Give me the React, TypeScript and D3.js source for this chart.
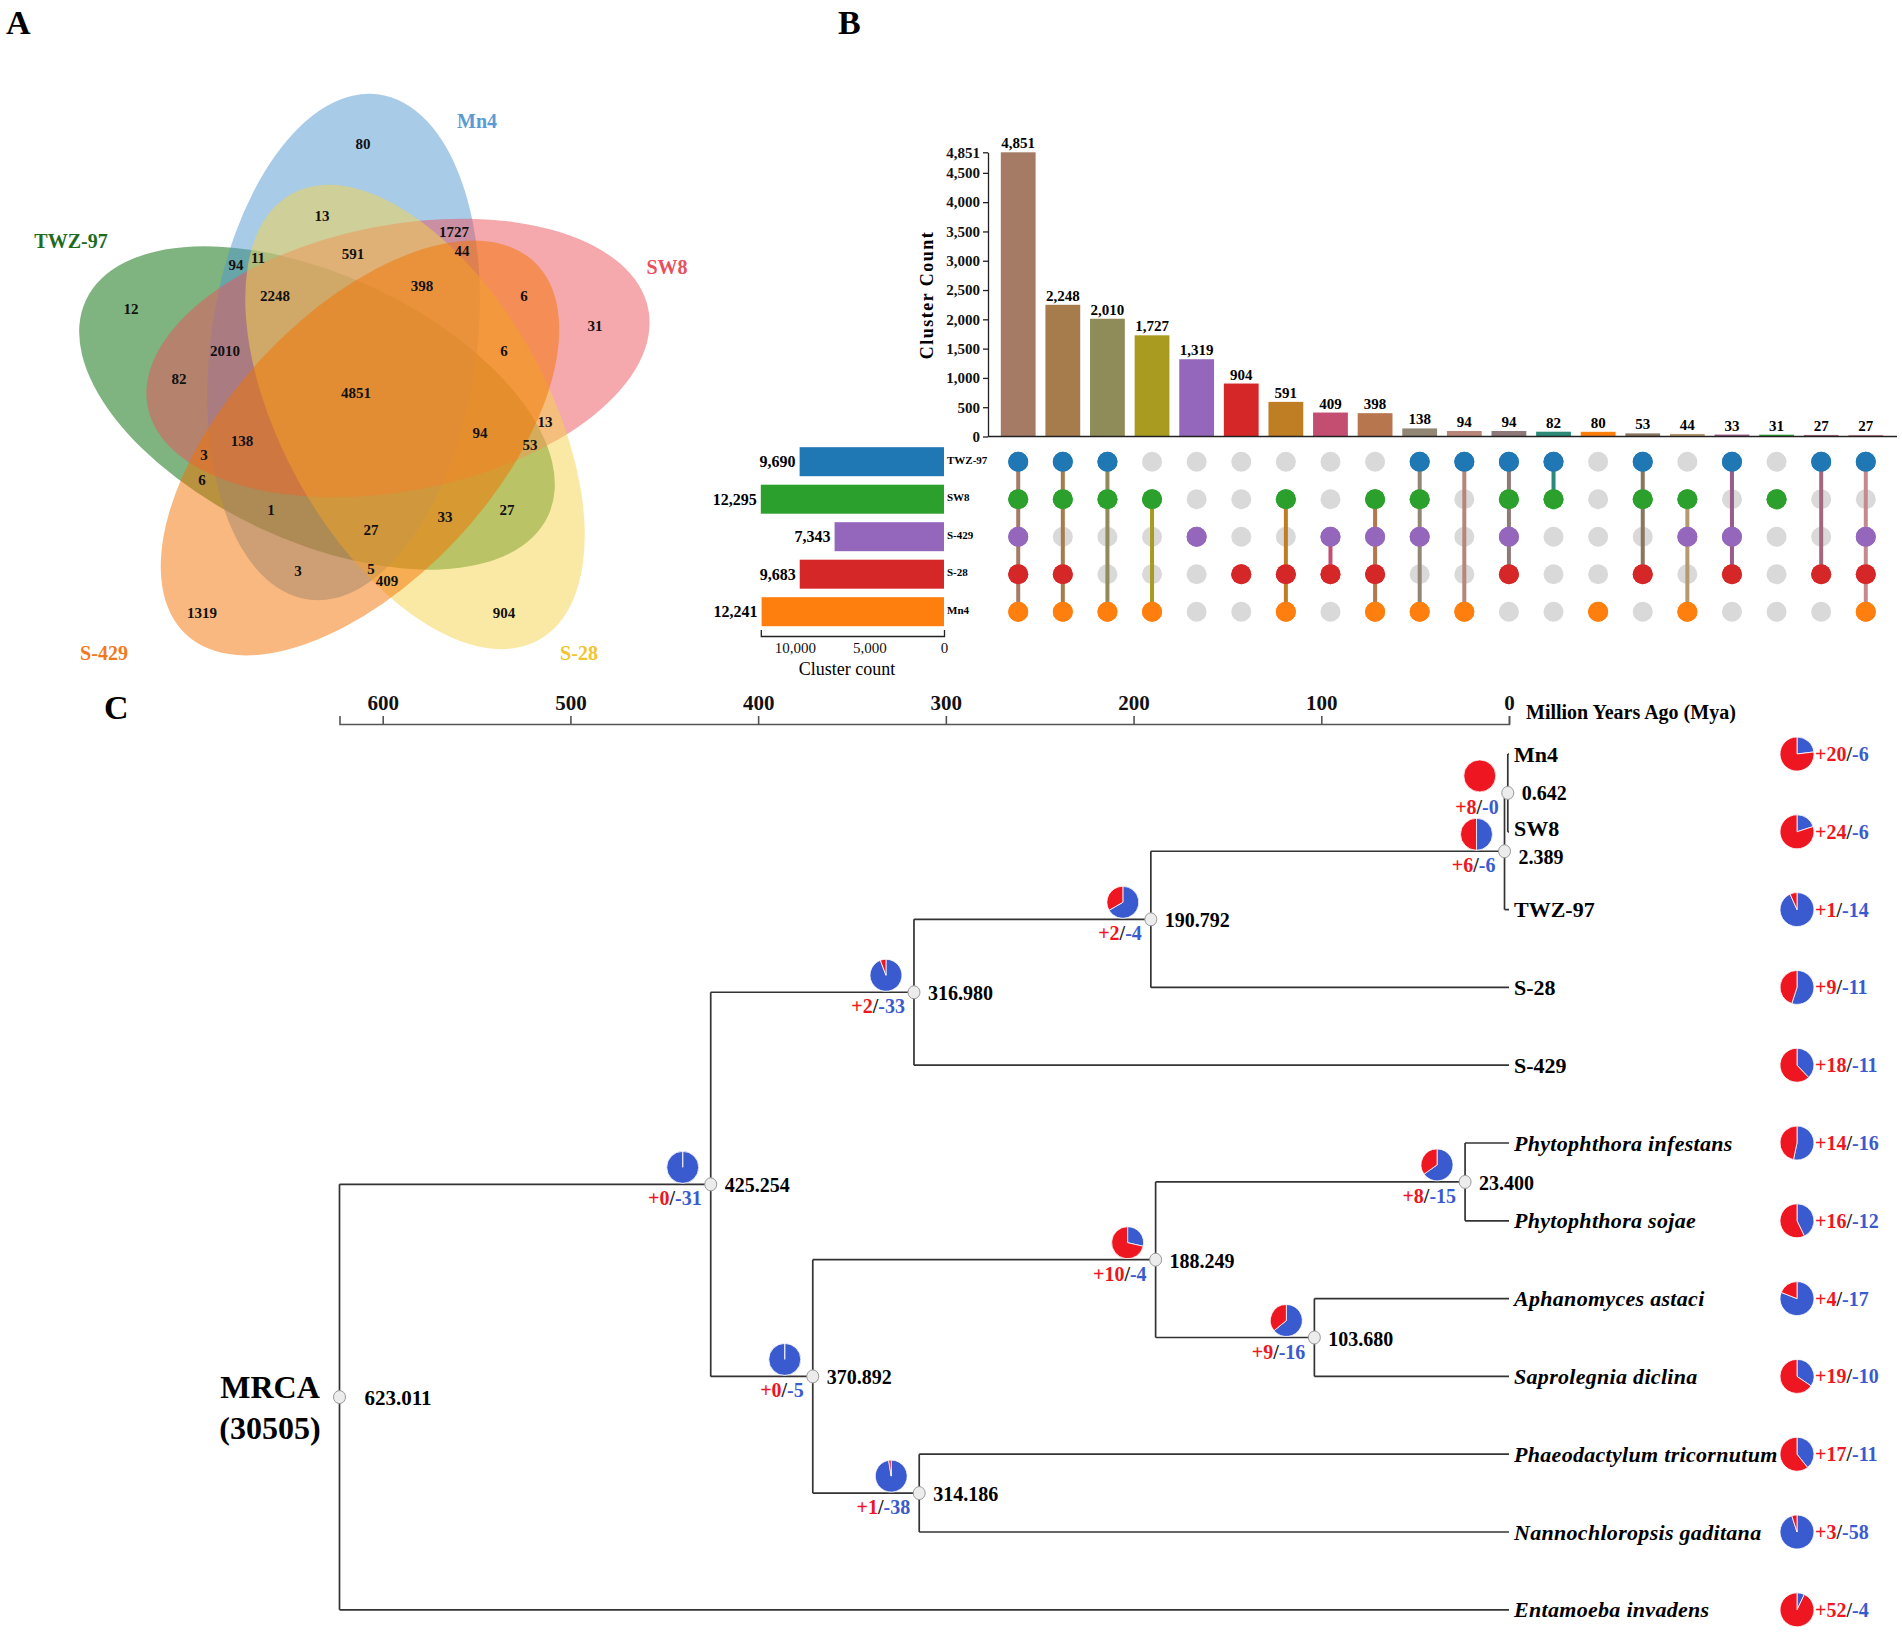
import * as d3 from "d3";
import { useEffect, useRef } from "react";

const W = 1902;
const H = 1635;
const SERIF = "'Liberation Serif', 'Times New Roman', serif";

// ---------- A: five-set venn ----------
const vennSetNames = ["Mn4", "SW8", "S-28", "S-429", "TWZ-97"];
const vennFill = ["#5197d1", "#eb535b", "#f5d34b", "#f37100", "#006700"];
const vennTextColor = ["#5b9bd5", "#e8505b", "#f2c430", "#f07a22", "#1e6b1e"];
const vennDrawOrder = [4, 0, 1, 2, 3];
const vennCounts = [80, 13, 1727, 44, 591, 94, 11, 2248, 398, 6, 31, 12, 2010, 82, 4851, 6, 13, 94, 53, 138, 3, 6, 1, 27, 33, 27, 3, 5, 409, 1319, 904];
const vennCountPos: [number, number][] = [
  [363, 144], [322, 216], [454, 232], [462, 251], [353, 254], [236, 265], [258, 258], [275, 296],
  [422, 286], [524, 296], [595, 326], [131, 309], [225, 351], [179, 379], [356, 393], [504, 351],
  [545, 422], [480, 433], [530, 445], [242, 441], [204, 455], [202, 480], [271, 510], [371, 530],
  [445, 517], [507, 510], [298, 571], [371, 569], [387, 581], [202, 613], [504, 613],
];
const vennSetLabelPos: [number, number][] = [[477, 121], [667, 267], [579, 653], [104, 653], [71, 241]];
// ellipse centre / rotation for each set (same order as vennSetNames)
const vennGeom = [
  { cx: 343.5, cy: 347, rot: 8 },
  { cx: 398, cy: 358, rot: 79 },
  { cx: 415, cy: 417, rot: 151 },
  { cx: 360, cy: 448, rot: 223 },
  { cx: 317, cy: 408, rot: 295 },
];

// ---------- B: upset ----------
const upsetRows = ["TWZ-97", "SW8", "S-429", "S-28", "Mn4"];
const rowColors = ["#1f77b4", "#2ca02c", "#9467bd", "#d62728", "#ff7f0e"];
const setSizes = [9690, 12295, 7343, 9683, 12241];
const interCounts = [4851, 2248, 2010, 1727, 1319, 904, 591, 409, 398, 138, 94, 94, 82, 80, 53, 44, 33, 31, 27, 27];
const interMembers = [
  "11111", "11011", "11001", "01001", "00100", "00010", "01011", "00110", "01111", "11101",
  "10001", "11110", "11000", "00001", "11010", "01101", "10110", "01000", "10010", "10111",
];
const interColors = [
  "#a67b66", "#a67c4d", "#8f8c5a", "#a99a20", "#9467bd", "#d62728", "#bf7d24", "#c44e72", "#b8764f", "#928674",
  "#b88678", "#8f7878", "#2b8a78", "#ff7f0e", "#8a7560", "#b59a6f", "#9a5a8a", "#2ca02c", "#a2687d", "#c58a8e",
];
const barTicks = [0, 500, 1000, 1500, 2000, 2500, 3000, 3500, 4000, 4500, 4851];
const setTicks = [10000, 5000, 0];

// ---------- C: time tree ----------
const timeTicks = [600, 500, 400, 300, 200, 100, 0];
const tipNames = [
  "Mn4", "SW8", "TWZ-97", "S-28", "S-429", "Phytophthora infestans", "Phytophthora sojae",
  "Aphanomyces astaci", "Saprolegnia diclina", "Phaeodactylum tricornutum", "Nannochloropsis gaditana", "Entamoeba invadens",
];
const tipItalic = [false, false, false, false, false, true, true, true, true, true, true, true];
const tipGain = [20, 24, 1, 9, 18, 14, 16, 4, 19, 17, 3, 52];
const tipLoss = [6, 6, 14, 11, 11, 16, 12, 17, 10, 11, 58, 4];
const nodeIds = ["n0", "n1", "n2", "n3", "n4", "n5", "n6", "n7", "n8", "n9", "root"];
const nodeAges = [0.642, 2.389, 190.792, 316.98, 23.4, 103.68, 188.249, 314.186, 370.892, 425.254, 623.011];
const nodeKids = [
  ["Mn4", "SW8"], ["n0", "TWZ-97"], ["n1", "S-28"], ["n2", "S-429"],
  ["Phytophthora infestans", "Phytophthora sojae"], ["Aphanomyces astaci", "Saprolegnia diclina"],
  ["n4", "n5"], ["Phaeodactylum tricornutum", "Nannochloropsis gaditana"], ["n6", "n7"], ["n3", "n8"],
  ["n9", "Entamoeba invadens"],
];
const nodeGain = [8, 6, 2, 2, 8, 9, 10, 1, 0, 0, -1];
const nodeLoss = [0, 6, 4, 33, 15, 16, 4, 38, 5, 31, -1];
// small vertical nudge of the age label so it clears the tip label above it
const nodeLabelDy = [0, 6, 1, 1, 1, 1, 1, 1, 1, 1, 1];

const RED = "#ee1620";
const BLUE = "#3a5bcf";

// scales
const barX = d3.scaleBand<number>().domain(d3.range(interCounts.length)).range([991, 1893]).padding(0.22);
const barY = d3.scaleLinear().domain([0, 4851]).range([436.5, 152.3]);
const rowY = d3.scalePoint<string>().domain(upsetRows).range([461.7, 611.7]);
const setX = d3.scaleLinear().domain([0, 12295]).range([944, 760.8]);
const timeX = d3.scaleLinear().domain([623.011, 0]).range([339.5, 1509]);
const tipY = d3.scaleLinear().domain([0, tipNames.length - 1]).range([754, 1609.8]);

const pieGen = d3.pie<number>().sort(null).value((d) => d);

function Pie({ x, y, r, gain, loss }: { x: number; y: number; r: number; gain: number; loss: number }) {
  const arc = d3.arc<d3.PieArcDatum<number>>().innerRadius(0).outerRadius(r);
  const arcs = pieGen([loss, gain]);
  return (
    <g transform={`translate(${x},${y})`}>
      {arcs.map((a, i) => (
        <path key={i} d={arc(a) || ""} fill={i === 0 ? BLUE : RED} stroke="#fff" strokeWidth={0.8} />
      ))}
    </g>
  );
}

function GainLoss({ x, y, gain, loss, anchor }: { x: number; y: number; gain: number; loss: number; anchor: "start" | "end" }) {
  return (
    <text x={x} y={y} textAnchor={anchor} dominantBaseline="central" fontFamily={SERIF} fontWeight="bold" fontSize={20}>
      <tspan fill={RED}>+{gain}</tspan>
      <tspan fill="#222">/</tspan>
      <tspan fill={BLUE}>-{loss}</tspan>
    </text>
  );
}

export default function App() {
  const yAxisRef = useRef<SVGGElement | null>(null);
  const setAxisRef = useRef<SVGGElement | null>(null);
  const timeAxisRef = useRef<SVGGElement | null>(null);

  useEffect(() => {
    const ya = d3.select(yAxisRef.current!);
    ya.call(d3.axisLeft(barY).tickValues(barTicks).tickFormat(d3.format(",")).tickSize(5).tickSizeOuter(0) as any);
    ya.selectAll("text").attr("font-family", SERIF).attr("font-weight", "bold").attr("font-size", 15).attr("fill", "#111");
    ya.selectAll("path,line").attr("stroke", "#222").attr("stroke-width", 1.3);

    const sa = d3.select(setAxisRef.current!);
    sa.call(d3.axisBottom(setX).tickValues(setTicks).tickFormat(d3.format(",")).tickSizeInner(0).tickSizeOuter(-6).tickPadding(6) as any);
    sa.selectAll("text").attr("font-family", SERIF).attr("font-size", 15).attr("fill", "#111");
    sa.selectAll("path,line").attr("stroke", "#222").attr("stroke-width", 1.3);

    const ta = d3.select(timeAxisRef.current!);
    ta.call(d3.axisTop(timeX).tickValues(timeTicks).tickSize(8).tickPadding(6) as any);
    ta.selectAll("text").attr("font-family", SERIF).attr("font-weight", "bold").attr("font-size", 21).attr("fill", "#111");
    ta.selectAll("path,line").attr("stroke", "#555").attr("stroke-width", 1.6);
  }, []);

  // tree layout
  const pos: Record<string, { x: number; y: number }> = {};
  tipNames.forEach((n, i) => (pos[n] = { x: timeX(0), y: tipY(i) }));
  nodeIds.forEach((id, i) => {
    const ys = nodeKids[i].map((k) => pos[k].y);
    pos[id] = { x: timeX(nodeAges[i]), y: (ys[0] + ys[1]) / 2 };
  });

  return (
    <svg width={W} height={H} style={{ position: "absolute", left: 0, top: 0, background: "#fff" }} fontFamily={SERIF}>
      <rect width={W} height={H} fill="#fff" />
      {/* panel letters */}
      <text x={6} y={34} fontSize={34} fontWeight="bold">A</text>
      <text x={838} y={34} fontSize={34} fontWeight="bold">B</text>
      <text x={104} y={719} fontSize={34} fontWeight="bold">C</text>

      {/* A venn */}
      <g>
        {vennDrawOrder.map((k) => (
          <ellipse
            key={k}
            cx={vennGeom[k].cx}
            cy={vennGeom[k].cy}
            rx={133}
            ry={255}
            fill={vennFill[k]}
            fillOpacity={0.5}
            transform={`rotate(${vennGeom[k].rot} ${vennGeom[k].cx} ${vennGeom[k].cy})`}
          />
        ))}
        {vennCounts.map((c, i) => (
          <text key={i} x={vennCountPos[i][0]} y={vennCountPos[i][1]} textAnchor="middle" dominantBaseline="central" fontSize={15} fontWeight="bold" fill="#111">
            {c}
          </text>
        ))}
        {vennSetNames.map((n, k) => (
          <text key={n} x={vennSetLabelPos[k][0]} y={vennSetLabelPos[k][1]} textAnchor="middle" dominantBaseline="central" fontSize={20} fontWeight="bold" fill={vennTextColor[k]}>
            {n}
          </text>
        ))}
      </g>

      {/* B upset */}
      <g>
        <text transform={`translate(927,295) rotate(-90)`} textAnchor="middle" dominantBaseline="central" fontSize={18} fontWeight="bold" letterSpacing={1.5}>
          Cluster Count
        </text>
        {interCounts.map((c, i) => (
          <g key={i}>
            <rect x={barX(i)} y={barY(c)} width={barX.bandwidth()} height={barY(0) - barY(c)} fill={interColors[i]} />
            <text x={barX(i)! + barX.bandwidth() / 2} y={barY(c) - 4} textAnchor="middle" fontSize={15} fontWeight="bold">
              {d3.format(",")(c)}
            </text>
          </g>
        ))}
        <line x1={988} x2={1897} y1={barY(0)} y2={barY(0)} stroke="#222" strokeWidth={1.3} />
        <g ref={yAxisRef} transform="translate(988,0)" />

        {/* matrix */}
        {interMembers.map((m, i) => {
          const cx = barX(i)! + barX.bandwidth() / 2;
          const on = upsetRows.filter((_, r) => m[r] === "1");
          const ys = on.map((r) => rowY(r)!);
          return (
            <g key={i}>
              {upsetRows.map((r, ri) => (
                <circle key={r} cx={cx} cy={rowY(r)} r={10} fill={m[ri] === "1" ? rowColors[ri] : "#d9d9d9"} />
              ))}
              {ys.length > 1 && (
                <line x1={cx} x2={cx} y1={d3.min(ys)!} y2={d3.max(ys)!} stroke={interColors[i]} strokeWidth={4} />
              )}
              {upsetRows.map((r, ri) =>
                m[ri] === "1" ? <circle key={"o" + r} cx={cx} cy={rowY(r)} r={10} fill={rowColors[ri]} /> : null
              )}
            </g>
          );
        })}

        {/* set sizes */}
        {upsetRows.map((r, i) => (
          <g key={r}>
            <rect x={setX(setSizes[i])} y={rowY(r)! - 14.5} width={setX(0) - setX(setSizes[i])} height={29} fill={rowColors[i]} />
            <text x={setX(setSizes[i]) - 4} y={rowY(r)} textAnchor="end" dominantBaseline="central" fontSize={16} fontWeight="bold">
              {d3.format(",")(setSizes[i])}
            </text>
            <text x={947} y={rowY(r)! - 2} dominantBaseline="central" fontSize={11} fontWeight="bold">
              {r}
            </text>
          </g>
        ))}
        <g ref={setAxisRef} transform="translate(0,636)" />
        <text x={847} y={669} textAnchor="middle" dominantBaseline="central" fontSize={18}>
          Cluster count
        </text>
      </g>

      {/* C tree */}
      <g>
        <g ref={timeAxisRef} transform="translate(0,724)" />
        <text x={1526} y={712} dominantBaseline="central" fontSize={20} fontWeight="bold">
          Million Years Ago (Mya)
        </text>

        {nodeIds.map((id, i) => {
          const p = pos[id];
          const ys = nodeKids[i].map((k) => pos[k].y);
          return (
            <g key={id} stroke="#333" strokeWidth={1.7} fill="none">
              <line x1={p.x} x2={p.x} y1={d3.min(ys)!} y2={d3.max(ys)!} />
              {nodeKids[i].map((k) => (
                <line key={k} x1={p.x} x2={pos[k].x} y1={pos[k].y} y2={pos[k].y} />
              ))}
            </g>
          );
        })}

        {nodeIds.map((id, i) => {
          const p = pos[id];
          const isRoot = id === "root";
          return (
            <g key={"lab" + id}>
              {!isRoot && <Pie x={p.x - 28} y={p.y - 17} r={16} gain={nodeGain[i]} loss={nodeLoss[i]} />}
              {!isRoot && <GainLoss x={p.x - 9} y={p.y + 14} gain={nodeGain[i]} loss={nodeLoss[i]} anchor="end" />}
              <ellipse cx={p.x} cy={p.y} rx={6} ry={6.5} fill="#ececec" stroke="#999" strokeWidth={1} />
              <text x={p.x + (isRoot ? 25 : 14)} y={p.y + nodeLabelDy[i]} dominantBaseline="central" fontSize={isRoot ? 21 : 20} fontWeight="bold">
                {nodeAges[i].toFixed(3)}
              </text>
            </g>
          );
        })}

        <text x={270} y={1387} textAnchor="middle" dominantBaseline="central" fontSize={32} fontWeight="bold">MRCA</text>
        <text x={270} y={1428} textAnchor="middle" dominantBaseline="central" fontSize={32} fontWeight="bold">(30505)</text>

        {tipNames.map((n, i) => (
          <g key={n}>
            <text x={1514} y={tipY(i) - (i === 1 ? 3 : 0)} dominantBaseline="central" fontSize={22} fontWeight="bold" fontStyle={tipItalic[i] ? "italic" : "normal"} letterSpacing={tipItalic[i] ? 0.3 : 0}>
              {n}
            </text>
            <Pie x={1797} y={tipY(i)} r={17} gain={tipGain[i]} loss={tipLoss[i]} />
            <GainLoss x={1815} y={tipY(i)} gain={tipGain[i]} loss={tipLoss[i]} anchor="start" />
          </g>
        ))}
      </g>
    </svg>
  );
}
